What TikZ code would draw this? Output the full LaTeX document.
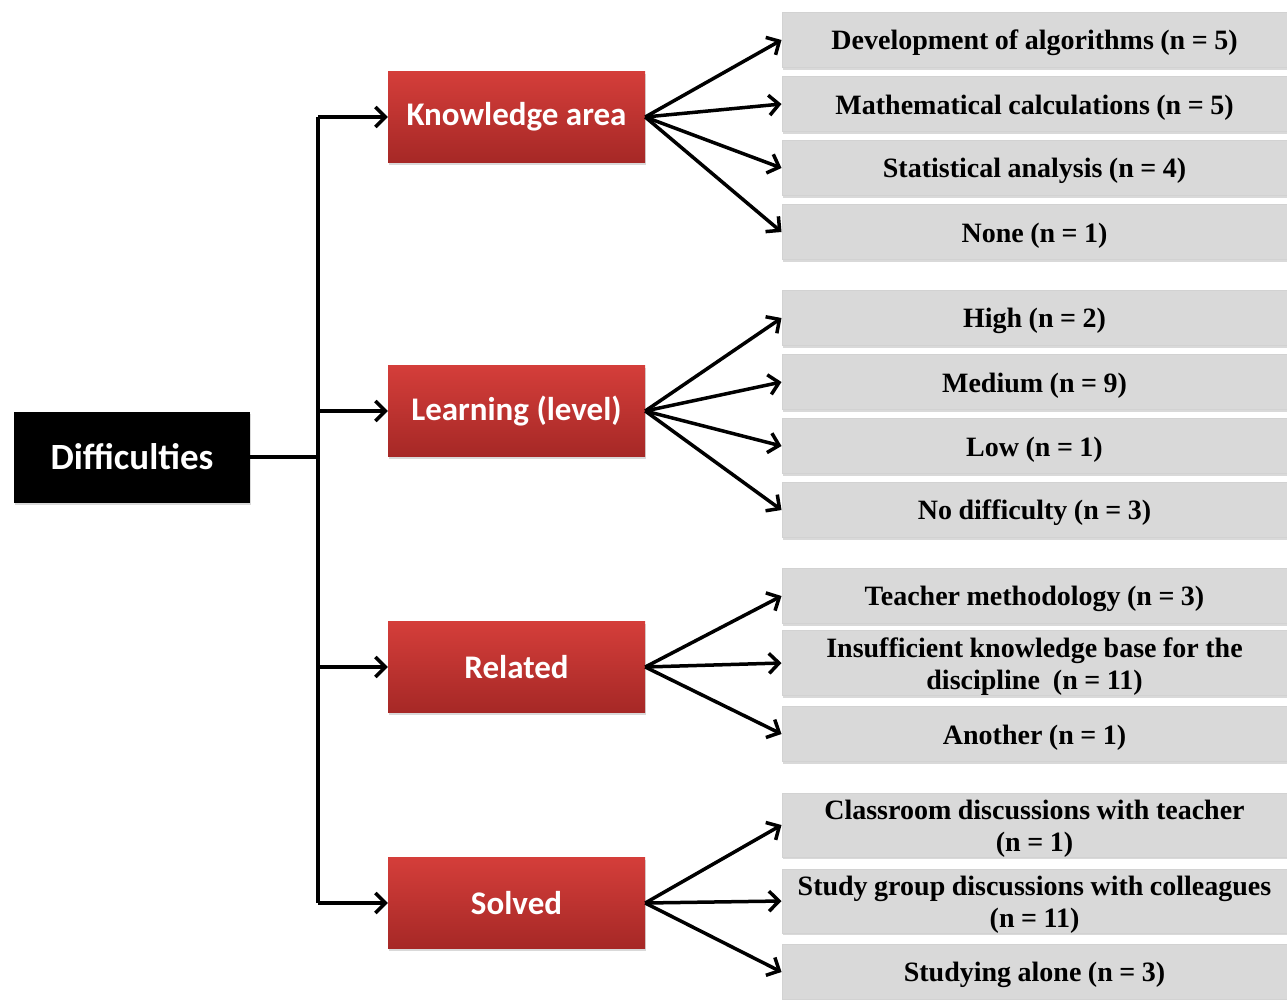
\documentclass[tikz,border=0pt]{standalone}
\usepackage{fontspec}
\setmainfont{Liberation Serif}
\newfontfamily\headfont{Carlito}
\usetikzlibrary{arrows.meta,shadows}

\definecolor{redtop}{RGB}{212,62,58}
\definecolor{redbot}{RGB}{166,40,38}
\definecolor{boxgray}{RGB}{217,217,217}

\tikzset{
	root/.style={fill=black,text=white,minimum width=236pt,minimum height=91pt,
		font=\headfont\bfseries\fontsize{37}{42}\selectfont,
		drop shadow={shadow xshift=1pt,shadow yshift=-2pt,opacity=0.3}},
	topic/.style={top color=redtop,bottom color=redbot,text=white,
		minimum width=257pt,minimum height=91pt,
		font=\headfont\bfseries\fontsize{33}{38}\selectfont,
		drop shadow={shadow xshift=1pt,shadow yshift=-2pt,opacity=0.3}},
	item/.style={fill=boxgray,draw=gray!35,line width=1pt,minimum width=505pt,
		text width=495pt,align=center,inner sep=0pt,
		font=\bfseries\fontsize{28}{32}\selectfont,
		execute at begin node={\spaceskip=6.5pt\relax\rule{0pt}{26pt}},
		drop shadow={shadow xshift=1pt,shadow yshift=-2pt,opacity=0.3}},
	trunk/.style={line width=3.5pt},
	link/.style={line width=3.5pt,-{Straight Barb[length=10pt,width=20pt,line width=3.5pt]}}
}

\begin{document}
\begin{tikzpicture}[x=1pt,y=-1pt]
	\useasboundingbox (0,0) rectangle (1287,999);
	% root and topics
	\node[root] (diff) at (132,457) {Difficulties};
	\foreach \nm/\y/\txt in {know/117/Knowledge area,learn/411/Learning (level),rel/667/Related,solv/903/Solved}{
		\node[topic] (\nm) at (516.5,\y) {\txt};
	}
	\coordinate (split) at (318,457);
	\draw[trunk] (diff.east) -- (split);
	\draw[trunk] (split |- know.west) -- (split |- solv.west);
	\foreach \nm in {know,learn,rel,solv}{
		\draw[link] (split |- \nm.west) -- (\nm.west);
	}
	% answers
	\foreach \nm/\y/\h/\txt in {
		k1/40/55/Development of algorithms (n = 5),
		k2/104/55/Mathematical calculations (n = 5),
		k3/168/55/Statistical analysis (n = 4),
		k4/232/55/None (n = 1),
		l1/318/55/High (n = 2),
		l2/382/55/Medium (n = 9),
		l3/446/55/Low (n = 1),
		l4/510/55/No difficulty (n = 3),
		r1/596/55/Teacher methodology (n = 3),
		r2/663/65/{Insufficient knowledge base for the\\discipline~~(n = 11)},
		r3/734/55/Another (n = 1),
		s1/825/64/{Classroom discussions with teacher\\(n = 1)},
		s2/901/64/{Study group discussions with colleagues\\(n = 11)},
		s3/972/55/Studying alone (n = 3)}{
		\node[item,minimum height=\h pt] (\nm) at (1034.5,\y) {\txt};
	}
	\foreach \a/\b in {know/k1,know/k2,know/k3,know/k4,learn/l1,learn/l2,learn/l3,learn/l4,
		rel/r1,rel/r2,rel/r3,solv/s1,solv/s2,solv/s3}{
		\draw[link] (\a.east) -- (\b.west);
	}
\end{tikzpicture}
\end{document}
